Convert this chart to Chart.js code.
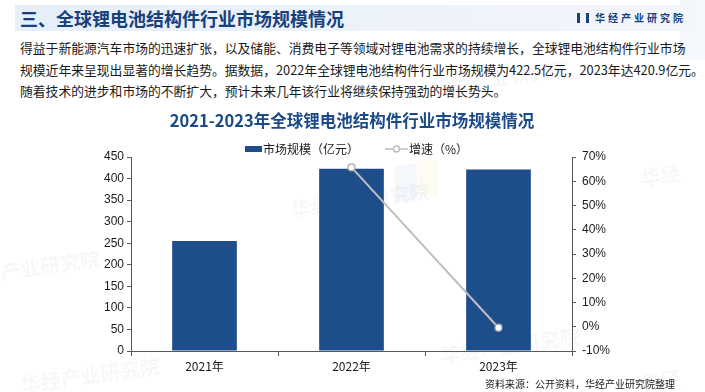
<!DOCTYPE html>
<html>
<head>
<meta charset="utf-8">
<script src="https://cdn.jsdelivr.net/npm/chart.js@4.4.1/dist/chart.umd.min.js"></script>
<style>
  body { margin: 0; background: #fff; font-family: "Noto Sans CJK SC", "Noto Sans", sans-serif; }
  #page { position: relative; width: 705px; height: 392px; overflow: hidden; }
  #header { position: absolute; left: 15px; top: 5px; width: 675px; height: 26px;
    background: linear-gradient(90deg, #e6eef9 0%, #eef3fa 60%, #f3f6fb 100%); }
  #header .t { position: absolute; left: 5px; top: 0; line-height: 26px; font-size: 18px; font-weight: bold; color: #17407c; }
  #header .logo { position: absolute; left: 562px; top: 0; line-height: 26px; font-size: 10px; font-weight: bold; color: #17407c; letter-spacing: 3px; }
  #header .logo i { display: inline-block; width: 6px; height: 10px; border-left: 3px solid #17407c; border-right: 3px solid #17407c; margin-right: 6px; vertical-align: -1px; }
  #para { position: absolute; left: 20px; top: 37px; width: 680px; font-size: 12.8px; line-height: 21.5px; color: #1a1a1a; white-space: nowrap; }
  #source { position: absolute; left: 485px; top: 376px; font-size: 10px; color: #1a1a1a; }
  .wm { position: absolute; font-size: 20px; font-weight: bold; color: rgba(120,135,160,0.07); transform: rotate(-8deg); white-space: nowrap; }
  .shape { position: absolute; opacity: 0.2; }
  canvas { position: absolute; left: 0; top: 0; }
</style>
</head>
<body>
<div id="page">
  <div class="shape" style="left:395px;top:165px;width:22px;height:36px;background:#c9d9f0;transform:skewY(-10deg);"></div>
  <div class="shape" style="left:418px;top:160px;width:20px;height:36px;background:#fbf0c0;transform:skewY(8deg);"></div>
  <div class="shape" style="left:680px;top:0;width:25px;height:60px;background:#c9d9f0;"></div>
  <div class="wm" style="left:0px;top:250px;">产业研究院</div>
  <div class="wm" style="left:20px;top:360px;">华经产业研究院</div>
  <div class="wm" style="left:430px;top:62px;">华经产业研究院</div>
  <div class="wm" style="left:440px;top:330px;">华经产业研究院</div>
  <div class="wm" style="left:640px;top:160px;">华经</div>
  <div class="wm" style="left:640px;top:365px;">华经</div>
  <div class="wm" style="left:290px;top:185px;">华经产业研究院</div>

  <div id="header"><span class="t">三、全球锂电池结构件行业市场规模情况</span><span class="logo"><i></i>华经产业研究院</span></div>
  <div id="para">得益于新能源汽车市场的迅速扩张，以及储能、消费电子等领域对锂电池需求的持续增长，全球锂电池结构件行业市场<br>规模近年来呈现出显著的增长趋势。据数据，2022年全球锂电池结构件行业市场规模为422.5亿元，2023年达420.9亿元。<br>随着技术的进步和市场的不断扩大，预计未来几年该行业将继续保持强劲的增长势头。</div>
  <canvas id="myChart" width="705" height="392"></canvas>
  <div id="source">资料来源：公开资料，华经产业研究院整理</div>
</div>
<script>
var chartTitle = '2021-2023年全球锂电池结构件行业市场规模情况';
var years = ['2021年', '2022年', '2023年'];
var marketSize = [255, 422.5, 420.9];
var growthRate = [null, 65.7, -0.4];
var sizeAxis = { min: 0, max: 450, step: 50 };
var rateAxis = { min: -10, max: 70, step: 10 };

var barColor = '#1e4d8c';
var lineColor = '#bfbfbf';
var axisColor = '#595959';

// title + legend drawn above the plot area
var headPlugin = {
    id: 'headPlugin',
    afterDraw: function(chart){
        var ctx = chart.ctx;
        var ds = chart.data.datasets;
        ctx.save();
        ctx.fillStyle = '#1b4a8a';
        ctx.font = 'bold 16.5px "Noto Sans CJK SC", sans-serif';
        ctx.textAlign = 'center';
        ctx.textBaseline = 'middle';
        ctx.fillText(chartTitle, 352, 121);

        ctx.font = '12px "Noto Sans CJK SC", sans-serif';
        ctx.textAlign = 'left';
        // bar item
        ctx.fillStyle = ds[1].backgroundColor;
        ctx.fillRect(245, 146, 17, 6);
        ctx.fillStyle = '#1a1a1a';
        ctx.fillText(ds[1].label, 263, 149);
        // line item
        ctx.strokeStyle = ds[0].borderColor;
        ctx.lineWidth = 1.5;
        ctx.beginPath();
        ctx.moveTo(385, 149); ctx.lineTo(408, 149);
        ctx.stroke();
        ctx.beginPath();
        ctx.arc(396.5, 149, 3, 0, Math.PI * 2);
        ctx.fillStyle = '#fff';
        ctx.fill();
        ctx.stroke();
        ctx.fillStyle = '#1a1a1a';
        ctx.fillText(ds[0].label, 409, 149);
        ctx.restore();
    }
};

var ctx = document.getElementById('myChart').getContext('2d');
var myChart = new Chart(ctx, {
    type: 'bar',
    data: {
        labels: years,
        datasets: [{
            type: 'line',
            label: '增速（%）',
            data: growthRate,
            yAxisID: 'yRate',
            borderColor: lineColor,
            borderWidth: 2,
            pointRadius: 3.5,
            pointBackgroundColor: '#fff',
            pointBorderColor: '#a6a6a6',
            pointBorderWidth: 1.2,
            spanGaps: false,
            order: 0
        }, {
            type: 'bar',
            label: '市场规模（亿元）',
            data: marketSize,
            yAxisID: 'ySize',
            backgroundColor: barColor,
            categoryPercentage: 1,
            barPercentage: 0.44,
            order: 1
        }]
    },
    options: {
        responsive: false,
        animation: false,
        layout: { padding: { top: 157, bottom: 0, left: 0, right: 0 } },
        plugins: { legend: { display: false }, title: { display: false }, tooltip: { enabled: false } },
        scales: {
            x: {
                afterFit: function(s){ s.height = 41; },
                grid: { offset: true, drawOnChartArea: false, tickLength: 5, color: axisColor },
                border: { color: axisColor },
                ticks: { color: '#1a1a1a', padding: 3, font: { family: '"Noto Sans CJK SC", sans-serif', size: 12 } }
            },
            ySize: {
                position: 'left',
                min: sizeAxis.min, max: sizeAxis.max,
                afterFit: function(s){ s.width = 131; },
                grid: { drawOnChartArea: false, tickLength: 4, color: axisColor },
                border: { color: axisColor },
                ticks: { stepSize: sizeAxis.step, color: '#1a1a1a', padding: 3,
                    font: { family: '"Liberation Sans", Arial, sans-serif', size: 12 } }
            },
            yRate: {
                position: 'right',
                min: rateAxis.min, max: rateAxis.max,
                afterFit: function(s){ s.width = 133; },
                grid: { drawOnChartArea: false, tickLength: 4, color: axisColor },
                border: { color: axisColor },
                ticks: { stepSize: rateAxis.step, color: '#1a1a1a', padding: 6,
                    font: { family: '"Liberation Sans", Arial, sans-serif', size: 12 },
                    callback: function(v){ return v + '%'; } }
            }
        }
    },
    plugins: [headPlugin]
});
</script>
</body>
</html>
